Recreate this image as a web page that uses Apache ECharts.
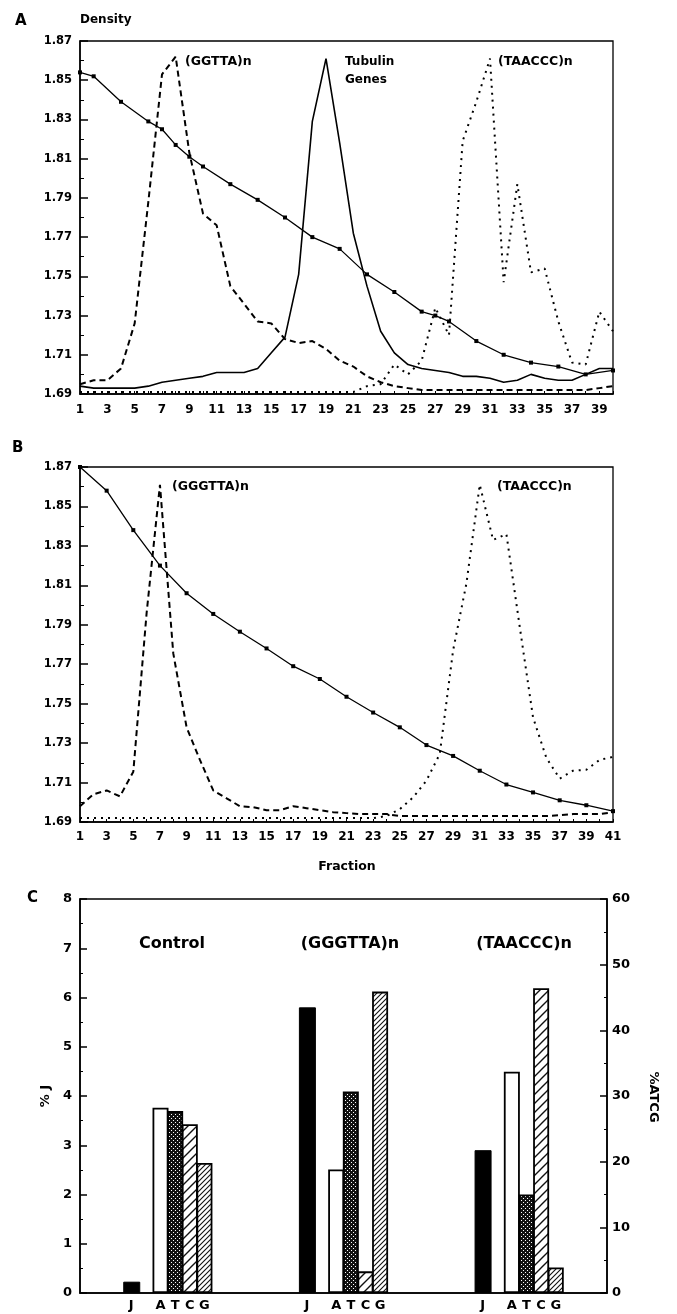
<!DOCTYPE html>
<html><head><meta charset="utf-8">
<script src="https://cdn.jsdelivr.net/npm/echarts@6/dist/echarts.min.js"></script>
<style>html,body{margin:0;padding:0;background:#fff}#c{width:677px;height:1314px}</style>
</head><body><div id="c"></div>
<script>
// ---------- Panel A data (fractions 1..40) ----------
const fractionsA = ['1','2','3','4','5','6','7','8','9','10','11','12','13','14','15','16','17','18','19','20',
  '21','22','23','24','25','26','27','28','29','30','31','32','33','34','35','36','37','38','39','40'];
const densityA = [1.854,1.852,null,1.839,null,1.829,1.825,1.817,1.811,1.806,null,1.797,null,1.789,null,1.780,null,1.770,null,1.764,
  null,1.751,null,1.742,null,1.732,1.730,1.727,null,1.717,null,1.710,null,1.706,null,1.704,null,1.700,null,1.702];
const tubulinA = [1.694,1.693,1.693,1.693,1.693,1.694,1.696,1.697,1.698,1.699,1.701,1.701,1.701,1.703,1.711,1.719,1.751,1.829,1.861,1.818,
  1.772,1.745,1.722,1.711,1.705,1.703,1.702,1.701,1.699,1.699,1.698,1.696,1.697,1.700,1.698,1.697,1.697,1.700,1.703,1.703];
const ggttaA = [1.695,1.697,1.697,1.703,1.726,1.788,1.853,1.862,1.813,1.782,1.776,1.745,1.736,1.727,1.726,1.718,1.716,1.717,1.713,1.707,
  1.704,1.699,1.696,1.694,1.693,1.692,1.692,1.692,1.692,1.692,1.692,1.692,1.692,1.692,1.692,1.692,1.692,1.692,1.693,1.694];
const taacccA = [1.691,1.691,1.691,1.691,1.691,1.691,1.691,1.691,1.691,1.691,1.691,1.691,1.691,1.691,1.691,1.691,1.691,1.691,1.691,1.691,
  1.691,1.694,1.695,1.705,1.700,1.707,1.734,1.720,1.819,1.839,1.861,1.747,1.797,1.752,1.754,1.727,1.706,1.705,1.732,1.722];

// ---------- Panel B data (fractions 1..41) ----------
const fractionsB = ['1','2','3','4','5','6','7','8','9','10','11','12','13','14','15','16','17','18','19','20',
  '21','22','23','24','25','26','27','28','29','30','31','32','33','34','35','36','37','38','39','40','41'];
const densityB = [1.870,null,1.858,null,1.838,null,1.820,null,1.806,null,1.7955,null,1.7865,null,1.778,null,1.769,null,1.7625,null,
  1.7535,null,1.7455,null,1.738,null,1.729,null,1.7235,null,1.716,null,1.709,null,1.705,null,1.701,null,1.6985,null,1.6955];
const gggttaB = [1.698,1.704,1.706,1.703,1.7155,1.796,1.861,1.7755,1.738,1.7215,1.706,1.702,1.698,1.6975,1.696,1.696,1.698,1.697,1.696,1.695,
  1.6945,1.694,1.694,1.694,1.693,1.693,1.693,1.693,1.693,1.693,1.693,1.693,1.693,1.693,1.693,1.693,1.6935,1.694,1.694,1.694,1.695];
const taacccB = [1.692,1.692,1.692,1.692,1.692,1.692,1.692,1.692,1.692,1.692,1.692,1.692,1.692,1.692,1.692,1.692,1.692,1.692,1.692,1.692,
  1.692,1.692,1.692,1.693,1.6965,1.7025,1.711,1.7245,1.777,1.811,1.861,1.833,1.836,1.789,1.743,1.7225,1.712,1.716,1.7165,1.7215,1.723];

// ---------- Panel C data ----------
const groupNames = ['Control','(GGGTTA)n','(TAACCC)n'];
const pctJ = [0.23, 5.8, 2.9];       // left axis, % J
const pctA = [28.2, 18.8, 33.7];     // right axis, % ATCG
const pctT = [27.7, 30.7, 15.0];
const pctC = [25.7, 3.3, 46.4];
const pctG = [19.8, 45.9, 3.9];
const baseLetters = ['J','A','T','C','G'];

// slot layout of the bar panel (36 slots)
const nSlots = 36, groupStart = [3,15,27], letterOffset = [0,2,3,4,5];
const slotCats = new Array(nSlots).fill('');
groupStart.forEach(s => letterOffset.forEach((o,k) => slotCats[s+o] = baseLetters[k]));
function slotSeries(vals, k){
  const d = new Array(nSlots).fill(null);
  groupStart.forEach((s,g) => d[s+letterOffset[k]] = vals[g]);
  return d;
}

function makePattern(kind){
  const c = document.createElement('canvas');
  if (kind === 'stipple'){
    c.width = 4; c.height = 4;
    const g = c.getContext('2d');
    g.fillStyle = '#111'; g.fillRect(0,0,4,4);
    g.fillStyle = '#fff'; g.fillRect(1,0,1,1); g.fillRect(3,2,1,1);
  } else {
    const s = kind === 'coarse' ? 9 : 5;
    c.width = s; c.height = s;
    const g = c.getContext('2d');
    g.fillStyle = '#fff'; g.fillRect(0,0,s,s);
    g.strokeStyle = '#111'; g.lineWidth = kind === 'coarse' ? 1.4 : 1.1;
    g.beginPath();
    g.moveTo(-1, s+1); g.lineTo(s+1, -1);
    g.moveTo(-s/2-1, s/2+1); g.lineTo(s/2+1, -s/2-1);
    g.moveTo(s/2-1, s*1.5+1); g.lineTo(s*1.5+1, s/2-1);
    g.stroke();
  }
  return {image: c, repeat: 'repeat'};
}

const FONT = 'DejaVu Sans';
const lblStyle = {color:'#000', fontFamily: FONT, fontWeight:'bold', fontSize: 11.5};
const axLine = {show:true, lineStyle:{color:'#000', width:1.5}};

function densityY(gridIndex){
  return {
    type:'value', gridIndex, min:1.69, max:1.87, interval:0.02,
    axisLine: axLine,
    axisTick:{show:true, inside:true, length:8, lineStyle:{color:'#000', width:1.5}},
    minorTick:{show:true, splitNumber:2, length:4, lineStyle:{color:'#000', width:1}},
    splitLine:{show:false}, minorSplitLine:{show:false},
    axisLabel: Object.assign({margin:8, formatter: v => v.toFixed(2)}, lblStyle)
  };
}
function fracX(gridIndex, cats, margin){
  return {
    type:'category', gridIndex, data:cats, boundaryGap:false,
    axisLine: axLine,
    axisTick:{show:true, inside:true, interval:0, length:3, lineStyle:{color:'#000', width:1}},
    splitLine:{show:false},
    axisLabel: Object.assign({interval:1, margin}, lblStyle, {fontSize:12})
  };
}

const solid = {color:'#000', width:1.3};
const option = {
  animation:false,
  backgroundColor:'#fff',
  grid:[
    {left:80, top:41, width:533, height:353, show:true, borderColor:'#000', borderWidth:1.3, backgroundColor:'transparent'},
    {left:80, top:467, width:533, height:355, show:true, borderColor:'#000', borderWidth:1.3, backgroundColor:'transparent'},
    {left:80, top:899, width:527, height:394, show:true, borderColor:'#000', borderWidth:1.5, backgroundColor:'transparent'}
  ],
  xAxis:[
    fracX(0, fractionsA, 10),
    fracX(1, fractionsB, 9),
    {type:'category', gridIndex:2, data:slotCats, axisLine:axLine, axisTick:{show:false},
     axisLabel:Object.assign({interval:0, margin:6}, lblStyle, {fontSize:13})}
  ],
  yAxis:[
    densityY(0),
    densityY(1),
    {type:'value', gridIndex:2, min:0, max:8, interval:1, axisLine:axLine,
     axisTick:{show:true, inside:true, length:7, lineStyle:{color:'#000', width:1.5}},
     minorTick:{show:true, splitNumber:2, length:3, lineStyle:{color:'#000', width:1}},
     splitLine:{show:false}, minorSplitLine:{show:false},
     axisLabel:Object.assign({margin:8}, lblStyle, {fontSize:13})},
    {type:'value', gridIndex:2, position:'right', min:0, max:60, interval:10, axisLine:axLine,
     axisTick:{show:true, inside:true, length:7, lineStyle:{color:'#000', width:1.5}},
     minorTick:{show:true, splitNumber:2, length:3, lineStyle:{color:'#000', width:1}},
     splitLine:{show:false}, minorSplitLine:{show:false},
     axisLabel:Object.assign({margin:5}, lblStyle, {fontSize:13})}
  ],
  series:[
    {name:'Density A', type:'line', xAxisIndex:0, yAxisIndex:0, data:densityA, connectNulls:true,
     symbol:'rect', symbolSize:4, showSymbol:true, itemStyle:{color:'#000'}, lineStyle:solid},
    {name:'Tubulin Genes', type:'line', xAxisIndex:0, yAxisIndex:0, data:tubulinA, showSymbol:false,
     lineStyle:{color:'#000', width:1.6}},
    {name:'(GGTTA)n', type:'line', xAxisIndex:0, yAxisIndex:0, data:ggttaA, showSymbol:false,
     lineStyle:{color:'#000', width:2, type:[6,4]}},
    {name:'(TAACCC)n A', type:'line', xAxisIndex:0, yAxisIndex:0, data:taacccA, showSymbol:false,
     lineStyle:{color:'#000', width:2, type:[2,5]}},
    {name:'Density B', type:'line', xAxisIndex:1, yAxisIndex:1, data:densityB, connectNulls:true,
     symbol:'rect', symbolSize:4, showSymbol:true, itemStyle:{color:'#000'}, lineStyle:solid},
    {name:'(GGGTTA)n', type:'line', xAxisIndex:1, yAxisIndex:1, data:gggttaB, showSymbol:false,
     lineStyle:{color:'#000', width:2, type:[6,4]}},
    {name:'(TAACCC)n B', type:'line', xAxisIndex:1, yAxisIndex:1, data:taacccB, showSymbol:false,
     lineStyle:{color:'#000', width:2, type:[2,5]}},
    {name:'J', type:'bar', xAxisIndex:2, yAxisIndex:2, data:slotSeries(pctJ,0), barWidth:17, barGap:'-100%',
     itemStyle:{color:'#000', borderColor:'#000', borderWidth:1}},
    {name:'A', type:'bar', xAxisIndex:2, yAxisIndex:3, data:slotSeries(pctA,1), barWidth:16, barGap:'-100%',
     itemStyle:{color:'#fff', borderColor:'#000', borderWidth:1.8}},
    {name:'T', type:'bar', xAxisIndex:2, yAxisIndex:3, data:slotSeries(pctT,2), barWidth:16, barGap:'-100%',
     itemStyle:{color:makePattern('stipple'), borderColor:'#000', borderWidth:1.8}},
    {name:'C', type:'bar', xAxisIndex:2, yAxisIndex:3, data:slotSeries(pctC,3), barWidth:16, barGap:'-100%',
     itemStyle:{color:makePattern('coarse'), borderColor:'#000', borderWidth:1.8}},
    {name:'G', type:'bar', xAxisIndex:2, yAxisIndex:3, data:slotSeries(pctG,4), barWidth:16, barGap:'-100%',
     itemStyle:{color:makePattern('fine'), borderColor:'#000', borderWidth:1.8}}
  ],
  graphic:[
    {type:'text', x:15, y:21, style:{text:'A', fill:'#000', font:'bold 15px "DejaVu Sans"', verticalAlign:'middle'}},
    {type:'text', x:80, y:20, style:{text:'Density', fill:'#000', font:'bold 12px "DejaVu Sans"', verticalAlign:'middle'}},
    {type:'text', x:185, y:62, style:{text:'(GGTTA)n', fill:'#000', font:'bold 12.5px "DejaVu Sans"', verticalAlign:'middle'}},
    {type:'text', x:345, y:62, style:{text:'Tubulin', fill:'#000', font:'bold 12px "DejaVu Sans"', verticalAlign:'middle'}},
    {type:'text', x:345, y:80, style:{text:'Genes', fill:'#000', font:'bold 12px "DejaVu Sans"', verticalAlign:'middle'}},
    {type:'text', x:498, y:62, style:{text:'(TAACCC)n', fill:'#000', font:'bold 12.5px "DejaVu Sans"', verticalAlign:'middle'}},
    {type:'text', x:12, y:448, style:{text:'B', fill:'#000', font:'bold 15px "DejaVu Sans"', verticalAlign:'middle'}},
    {type:'text', x:172, y:487, style:{text:'(GGGTTA)n', fill:'#000', font:'bold 12.5px "DejaVu Sans"', verticalAlign:'middle'}},
    {type:'text', x:497, y:487, style:{text:'(TAACCC)n', fill:'#000', font:'bold 12.5px "DejaVu Sans"', verticalAlign:'middle'}},
    {type:'text', x:347, y:867, style:{text:'Fraction', fill:'#000', font:'bold 12.5px "DejaVu Sans"', align:'center', verticalAlign:'middle'}},
    {type:'text', x:27, y:898, style:{text:'C', fill:'#000', font:'bold 15px "DejaVu Sans"', verticalAlign:'middle'}},
    {type:'text', x:172, y:944, style:{text:groupNames[0], fill:'#000', font:'bold 16px "DejaVu Sans"', align:'center', verticalAlign:'middle'}},
    {type:'text', x:350, y:944, style:{text:groupNames[1], fill:'#000', font:'bold 16px "DejaVu Sans"', align:'center', verticalAlign:'middle'}},
    {type:'text', x:524, y:944, style:{text:groupNames[2], fill:'#000', font:'bold 16px "DejaVu Sans"', align:'center', verticalAlign:'middle'}},
    {type:'text', x:46, y:1096, rotation:Math.PI/2, style:{text:'% J', fill:'#000', font:'bold 13px "DejaVu Sans"', align:'center', verticalAlign:'middle'}},
    {type:'text', x:653, y:1097, rotation:-Math.PI/2, style:{text:'%ATCG', fill:'#000', font:'bold 13px "DejaVu Sans"', align:'center', verticalAlign:'middle'}}
  ]
};
const chart = echarts.init(document.getElementById('c'));
chart.setOption(option);
</script>
</body></html>
